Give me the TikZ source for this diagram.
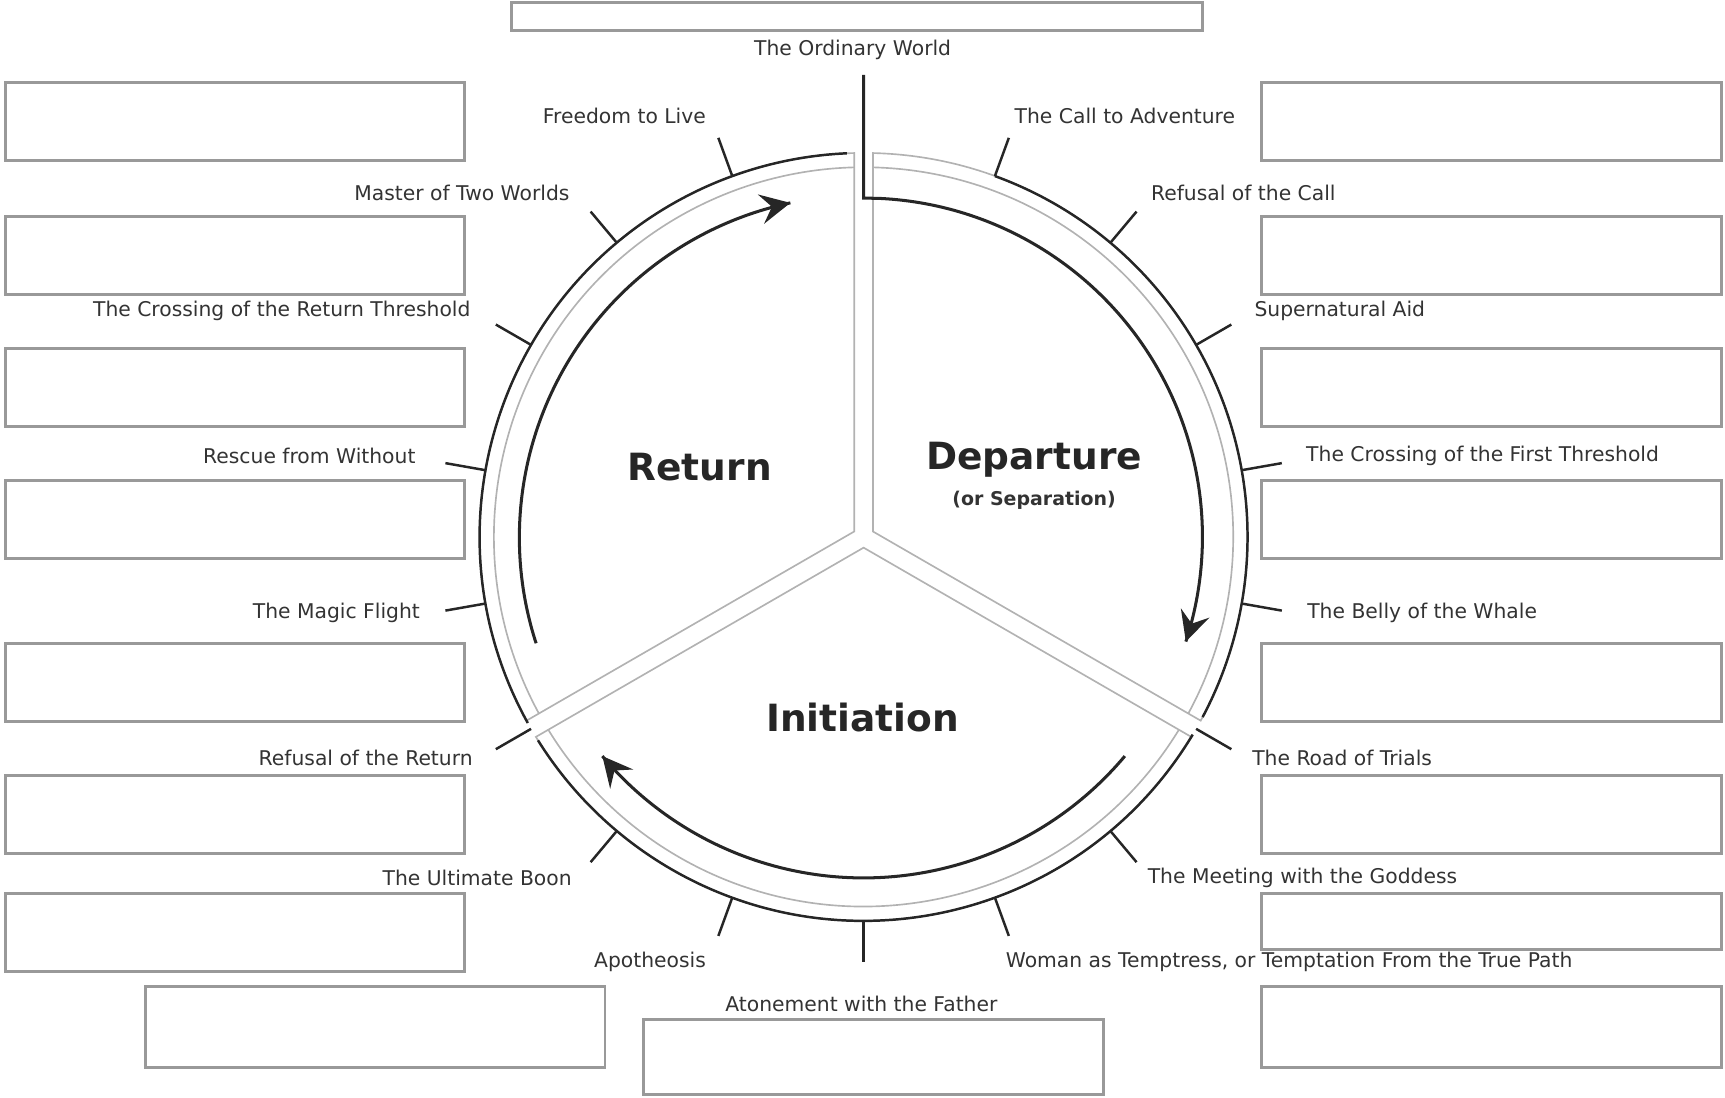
\documentclass[tikz,border=0pt]{standalone}
\usepackage{fontspec}
\setmainfont{DejaVu Sans}
\usetikzlibrary{calc,decorations.markings}
\tikzset{->/.style = {decoration={markings, mark=at position 1 with {\arrow[scale=2.6]{stealth}}}, postaction={decorate}}}
\tikzset{stage/.style = {font=\fontsize{10.5}{12}\selectfont, text=black!80, inner sep=0pt},
         title/.style = {font=\fontsize{19.4}{22}\selectfont\bfseries, text=black!85},
         blank/.style = {draw=black!40, line width=0.5mm},
         road/.style = {draw=black!30, line width=0.3mm},
         rim/.style = {draw=black!85, line width=0.45mm}}

\begin{document}
\begin{tikzpicture}[x=0.2mm, y=0.2mm]
\useasboundingbox (-785,488) rectangle (783,-510);
\coordinate (O) at (0,0);
% empty boxes
\foreach \y in {413,291,171,51,-97,-217,-324} {
  \draw[blank] (-780,\y) rectangle ++(417,-71);
}
\foreach \y in {413,291,171,51,-97,-217} {
  \draw[blank] (362,\y) rectangle ++(418,-71);
}
\draw[blank] (362,-324) rectangle (780,-375);
\draw[blank] (362,-409) rectangle (780,-482);
\draw[blank] (-653,-409) rectangle (-235,-482);
\draw[blank] (-200,-439) rectangle (218,-507);
\draw[blank] (-320,486) rectangle (308,460);
% the road: three sectors
\foreach \b in {30,-90,150} {
  \draw[road] ($(O)+(\b:9.8)$) -- (\b+58.6:349) arc (\b+58.6:\b-58.6:349) -- cycle;
  \draw[road] (\b+58.55:336) arc (\b+58.55:\b-58.55:336);
}
% outer rim
\draw[rim] (70:349) arc (70:-28:349);
\draw[rim] (-31:349) arc (-31:-148:349);
\draw[rim] (-151:349) arc (-151:-267.5:349);
% stage ticks
\foreach \a [count=\i] in {70,50,...,-250} {
  \coordinate (in\i) at (\a:349);
  \coordinate (out\i) at (\a:386);
  \draw[rim] (in\i) -- (out\i);
}
% inner arrows
\coordinate (top) at (0,420);
\draw[rim, line width=0.55mm, ->] (top) -- (0,308) -- (87:308) arc (87:-18:308);
\draw[rim, line width=0.55mm, ->] (-40:310) arc (-40:-140:310);
\draw[rim, line width=0.55mm, ->] (-162:313) arc (-162:-258:311);
% section titles
\node[title] (ret) at (-149,63) {Return};
\node[title] (dep) at (155,70) {Departure};
\node[font=\fontsize{9.8}{11}\selectfont\bfseries, text=black!80] (sep) at (155,33) {(or Separation)};
\node[title] (ini) at (-1,-164) {Initiation};
% stage labels
\node[stage] (ordinary) at (-10,443) {The Ordinary World};
\node[stage, anchor=west] (call) at (137,383) {The Call to Adventure};
\node[stage, anchor=west] (refcall) at (261,313) {Refusal of the Call};
\node[stage, anchor=west] (aid) at (355,205) {Supernatural Aid};
\node[stage, anchor=west] (first) at (402,74) {The Crossing of the First Threshold};
\node[stage, anchor=west] (belly) at (403,-69) {The Belly of the Whale};
\node[stage, anchor=west] (trials) at (353,-201) {The Road of Trials};
\node[stage, anchor=west] (goddess) at (258,-310) {The Meeting with the Goddess};
\node[stage, anchor=west] (woman) at (129,-386) {Woman as Temptress, or Temptation From the True Path};
\node[stage] (father) at (-2,-425) {Atonement with the Father};
\node[stage, anchor=east] (apo) at (-143,-386) {Apotheosis};
\node[stage, anchor=east] (boon) at (-265,-310) {The Ultimate Boon};
\node[stage, anchor=east] (refret) at (-355,-201) {Refusal of the Return};
\node[stage, anchor=east] (flight) at (-403,-69) {The Magic Flight};
\node[stage, anchor=east] (rescue) at (-407,74) {Rescue from Without};
\node[stage, anchor=east] (retthr) at (-357,205) {The Crossing of the Return Threshold};
\node[stage, anchor=east] (master) at (-267,313) {Master of Two Worlds};
\node[stage, anchor=east] (freedom) at (-143,383) {Freedom to Live};
\end{tikzpicture}
\end{document}
